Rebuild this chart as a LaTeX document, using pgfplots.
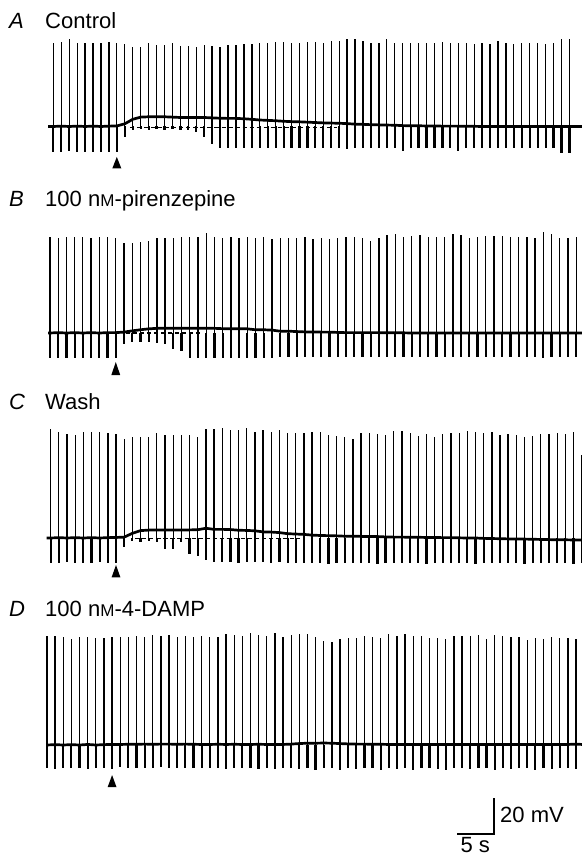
\documentclass[border=0pt]{standalone}
\usepackage{fontspec}
\setmainfont{Liberation Sans}
\usepackage{pgfplots}
\usepackage{pgfplotstable}
\pgfplotsset{compat=1.18}

% t = time (s), p = spike peak, d = undershoot, b = baseline (mV, rel. to rest)
\pgfplotstableread{
t p d b
0.00 0 0 0
0.72 46.4 -14.0 0
1.79 46.9 -14.2 0.2
2.87 48.6 -13.8 0
3.94 46.4 -14.0 0.2
5.01 46.4 -14.1 0
6.09 46.4 -13.9 0.2
7.16 46.4 -14.0 0
8.23 46.9 -14.2 0.2
9.30 46.4 -14.0 0.3
10.38 45.8 -6.0 1.5
11.45 44.2 -2.0 4.0
12.52 44.2 -1.5 5.2
13.60 46.4 -2.0 5.4
14.67 45.3 -1.5 5.4
15.74 45.3 -2.0 5.4
16.82 46.4 -1.5 5.2
17.89 44.7 -2.0 5.0
18.96 44.7 -2.0 5.0
20.03 44.2 -3.0 5.0
21.11 45.3 -6.0 5.0
22.18 44.7 -10.0 4.8
23.25 44.2 -12.0 4.6
24.33 45.3 -12.1 4.5
25.40 45.3 -12.0 4.5
26.47 45.8 -12.2 4.3
27.55 45.8 -12.0 4.0
28.62 46.4 -12.1 3.6
29.69 46.4 -12.0 3.4
30.76 46.9 -12.2 3.2
31.84 47.0 -12.1 2.9
32.91 46.6 -12.0 2.7
33.98 46.6 -12.1 2.6
35.06 47.1 -12.0 2.4
36.13 47.1 -12.2 2.2
37.20 46.2 -12.1 2.0
38.28 47.7 -12.0 1.9
39.35 47.7 -12.1 1.8
40.42 48.4 -12.3 1.6
41.49 48.4 -12.0 1.3
42.57 47.7 -12.1 1.2
43.64 46.6 -12.0 1.0
44.71 46.6 -12.2 0.9
45.79 48.4 -12.1 0.8
46.86 46.6 -12.0 0.7
47.93 46.2 -13.5 0.5
49.01 46.2 -12.1 0.4
50.08 46.6 -12.0 0.4
51.15 46.6 -12.2 0.3
52.22 46.6 -12.1 0.3
53.30 47.1 -12.0 0.2
54.37 46.6 -12.1 0.2
55.44 46.6 -13.5 0.2
56.52 46.2 -12.0 0.1
57.59 45.8 -12.1 0.1
58.66 46.2 -12.0 0
59.74 45.8 -12.2 0
60.81 47.7 -12.1 0
61.88 46.6 -12.0 0
62.95 45.8 -12.1 0
64.03 46.6 -12.2 0
65.10 46.6 -12.0 0
66.17 46.6 -12.1 0
67.25 45.8 -12.0 0
68.32 46.6 -12.2 0
69.39 48.4 -14.7 0
70.47 48.4 -14.7 0
72.20 0 0 0
}\traceA

\pgfplotstableread{
t p d b
0.00 0 0 0
0.27 53.5 -13.9 0
1.38 53.0 -14.0 0.2
2.49 53.5 -13.8 0
3.60 53.2 -13.9 0.2
4.71 53.5 -14.0 0
5.83 52.8 -13.9 0.2
6.94 53.5 -14.0 0
8.05 53.2 -13.8 0.2
9.16 53.0 -13.9 0.2
10.27 49.8 -6.0 0.5
11.38 49.8 -5.0 1.2
12.49 50.7 -5.0 1.8
13.60 50.9 -5.0 2.3
14.71 52.6 -5.5 2.6
15.82 53.0 -6.0 2.6
16.94 52.6 -9.0 2.6
18.05 53.5 -10.0 2.6
19.16 53.5 -13.9 2.6
20.27 53.2 -13.8 2.6
21.38 55.4 -14.0 2.6
22.49 53.5 -13.9 2.6
23.60 52.6 -14.0 2.4
24.71 53.5 -13.8 2.4
25.82 53.0 -13.9 2.4
26.93 53.5 -14.0 2.3
28.05 52.6 -13.9 1.8
29.16 53.5 -13.8 1.8
30.27 52.2 -13.9 1.6
31.38 52.6 -13.1 1.0
32.49 52.6 -13.1 1.0
33.60 52.6 -13.2 0.8
34.71 53.5 -13.1 0.6
35.82 52.2 -13.1 0.6
36.93 52.9 -13.3 0.5
38.04 52.0 -13.1 0.5
39.16 52.9 -13.1 0.3
40.27 53.5 -13.2 0.2
41.38 53.5 -13.1 0.2
42.49 52.6 -13.1 0.2
43.60 51.3 -13.4 0.2
44.71 52.6 -13.1 0.2
45.82 54.4 -13.1 0.1
46.93 54.9 -13.2 0.1
48.04 53.5 -13.1 0.1
49.15 54.1 -13.1 0
50.27 54.4 -13.4 0
51.38 53.1 -13.1 0
52.49 53.1 -13.1 0
53.60 53.5 -13.2 0
54.71 54.8 -13.1 0
55.82 54.4 -13.1 0
56.93 52.9 -13.3 0
58.04 53.5 -13.1 0
59.15 54.1 -13.1 0
60.26 54.1 -13.2 0
61.38 54.1 -13.1 0
62.49 53.5 -13.1 0
63.60 53.5 -13.4 0
64.71 53.5 -13.1 0
65.82 52.6 -13.1 0
66.93 56.3 -14.0 0
68.04 54.9 -13.1 0
69.15 52.6 -13.1 0
70.26 52.9 -13.2 0
71.37 53.1 -13.1 0
72.20 0 0 0
}\traceB

\pgfplotstableread{
t p d b
-0.20 0 0 0
0.36 60.4 -13.7 0
1.46 59.1 -13.8 0.2
2.57 57.8 -13.6 0
3.67 57.2 -13.7 0.2
4.78 59.1 -13.8 0
5.88 59.1 -13.7 0.2
6.98 59.1 -13.6 0
8.09 58.1 -13.8 0.2
9.19 57.8 -13.7 0.3
10.30 54.8 -5.0 0.5
11.40 55.9 -1.5 2.6
12.50 55.9 -2.0 4.1
13.61 56.3 -1.5 4.4
14.71 58.1 -2.0 4.4
15.82 57.2 -6.0 4.4
16.92 57.2 -6.0 4.4
18.02 57.2 -2.5 4.4
19.13 57.2 -9.0 4.5
20.23 56.3 -10.0 4.6
21.34 60.4 -12.0 5.4
22.44 60.4 -13.5 4.8
23.54 60.9 -13.6 4.8
24.65 60.0 -13.5 4.7
25.75 60.0 -13.7 4.3
26.86 60.9 -13.5 4.2
27.96 59.1 -13.6 4.0
29.06 60.0 -13.5 3.4
30.17 59.1 -13.7 3.3
31.27 60.0 -13.5 3.0
32.38 58.5 -14.0 2.4
33.48 58.1 -14.0 2.2
34.58 58.5 -14.1 2.0
35.69 58.7 -14.0 1.6
36.79 58.7 -14.0 1.4
37.90 57.2 -14.2 1.3
39.00 56.7 -14.0 1.2
40.10 56.3 -14.0 1.0
41.21 54.8 -14.1 1.0
42.31 58.1 -14.0 0.9
43.42 58.1 -14.0 0.8
44.52 57.6 -14.2 0.8
45.62 57.2 -14.0 0.6
46.73 59.6 -14.0 0.5
47.83 59.6 -14.1 0.5
48.94 58.1 -14.0 0.4
50.04 56.7 -14.0 0.4
51.14 57.8 -14.2 0.3
52.25 55.9 -14.0 0.3
53.35 57.6 -14.0 0.2
54.46 58.1 -14.1 0.2
55.56 58.5 -14.0 0.1
56.66 59.4 -14.0 0
57.77 59.1 -14.2 0
58.87 58.5 -14.0 -0.2
59.98 58.7 -14.0 -0.3
61.08 57.2 -14.1 -0.4
62.18 57.6 -14.0 -0.5
63.29 57.2 -14.0 -0.6
64.39 56.3 -14.2 -0.6
65.50 56.7 -14.0 -0.7
66.60 57.6 -14.0 -0.8
67.70 57.6 -14.1 -0.9
68.81 58.1 -14.0 -1.0
69.91 57.6 -14.0 -1.0
71.02 58.7 -14.2 -1.1
72.12 46.1 -14.0 -1.1
72.20 0 0 -1.1
}\traceC

\pgfplotstableread{
t p d b
-0.27 0 0 0
-0.14 60.6 -13.0 0
0.96 60.6 -13.2 0.2
2.06 59.8 -13.0 0
3.16 58.7 -12.8 0.2
4.26 59.8 -13.0 0
5.36 59.8 -13.1 0.3
6.46 59.3 -13.0 0
7.56 59.3 -12.6 0.2
8.66 59.8 -13.2 0.3
9.76 59.8 -12.0 0.3
10.86 60.2 -12.8 0.4
11.96 60.6 -13.0 0.4
13.06 59.8 -12.5 0.5
14.16 61.1 -13.0 0.4
15.26 60.6 -12.4 0.5
16.36 61.1 -13.0 0.5
17.46 59.8 -12.8 0.4
18.56 60.6 -13.0 0.5
19.66 60.2 -12.6 0.4
20.76 60.6 -13.0 0.3
21.86 59.8 -12.8 0.3
22.96 59.8 -13.0 0.4
24.06 61.7 -13.1 0.3
25.16 61.1 -13.0 0.4
26.26 60.6 -12.8 0.3
27.36 62.0 -13.0 0.3
28.46 61.1 -13.2 0.4
29.56 60.6 -13.0 0.3
30.66 62.0 -13.1 0.3
31.76 59.8 -13.0 0.3
32.86 61.1 -13.0 0.5
33.96 61.5 -13.1 0.8
35.06 61.7 -13.0 1.0
36.16 60.2 -13.9 1.0
37.26 57.8 -13.0 1.1
38.36 57.4 -13.0 1.0
39.46 58.9 -13.9 0.8
40.56 59.3 -13.0 0.6
41.66 59.6 -13.1 0.5
42.76 60.8 -13.0 0.5
43.86 60.2 -13.0 0.4
44.96 59.6 -13.9 0.4
46.06 61.5 -13.0 0.3
47.16 60.8 -13.1 0.3
48.26 61.5 -13.0 0.3
49.36 60.6 -13.9 0.3
50.46 60.8 -13.0 0.3
51.56 59.3 -13.0 0.3
52.66 59.3 -13.1 0.3
53.76 58.7 -13.9 0.3
54.86 60.6 -13.0 0.3
55.96 60.6 -13.0 0.3
57.06 60.6 -13.1 0.3
58.16 61.1 -13.0 0.3
59.26 58.9 -13.0 0.3
60.36 61.1 -13.9 0.3
61.46 60.6 -13.0 0.3
62.56 60.2 -13.1 0.3
63.66 60.2 -13.0 0.3
64.76 58.3 -13.0 0.3
65.86 59.6 -13.9 0.3
66.96 58.7 -13.0 0.3
68.06 59.8 -13.1 0.3
69.16 59.3 -13.0 0.3
70.26 59.3 -13.0 0.3
71.36 58.7 -13.1 0.5
72.20 0 0 0.3
}\traceD

\pgfplotsset{
  trace/.style={hide axis, anchor=south west, x=0.222cm, y=0.054cm,
    xmin=-1, xmax=72.16, ymin=-26, ymax=66},
  base/.style={black, line width=2.3pt, line join=round},
  up/.style={black, ycomb, line width=1.1pt},
  down/.style={black, ycomb, line width=1.9pt},
  rest/.style={black, line width=0.9pt, dash pattern=on 3.5pt off 2.5pt},
}
\newcommand\lab{\fontsize{18.8}{22}\selectfont}
\newcommand\smM{{\fontsize{14.5}{16}\selectfont M}}
% arrowhead under the 9th spike
\newcommand\stim[3]{\fill (axis cs:#1,#2) -- (axis cs:#1-0.6,#3) -- (axis cs:#1+0.6,#3) -- cycle;}

\begin{document}
\begin{tikzpicture}
\path[use as bounding box] (0,0) rectangle (17.46,25.65);

% A
\begin{axis}[trace, at={(1.218cm,20.451cm)}]
  \addplot[base] table[x=t,y=b]{\traceA};
  \addplot[up] table[x=t,y=p]{\traceA};
  \addplot[down] table[x=t,y=d]{\traceA};
  \addplot[rest] coordinates {(11.1,-0.3) (39,-0.3)};
  \stim{9.30}{-16.9}{-23.2}
\end{axis}

% B
\begin{axis}[trace, at={(1.218cm,14.256cm)}]
  \addplot[base] table[x=t,y=b]{\traceB};
  \addplot[up] table[x=t,y=p]{\traceB};
  \addplot[down] table[x=t,y=d]{\traceB};
  \addplot[rest] coordinates {(10.5,0) (20.5,0)};
  \stim{9.16}{-16.1}{-23.4}
\end{axis}

% C
\begin{axis}[trace, at={(1.218cm,8.106cm)}]
  \addplot[base] table[x=t,y=b]{\traceC};
  \addplot[up] table[x=t,y=p]{\traceC};
  \addplot[down] table[x=t,y=d]{\traceC};
  \addplot[rest] coordinates {(11.8,-0.5) (34,-0.5)};
  \stim{9.19}{-15}{-21.9}
\end{axis}

% D
\begin{axis}[trace, at={(1.218cm,1.896cm)}]
  \addplot[base] table[x=t,y=b]{\traceD};
  \addplot[up] table[x=t,y=p]{\traceD};
  \addplot[down] table[x=t,y=d]{\traceD};
  \stim{8.66}{-16.7}{-23.4}
\end{axis}

% panel labels
\begin{scope}[every node/.style={inner sep=0pt, anchor=base west, font=\lab}]
  \node at (0.27,24.78) {\itshape A};
  \node at (1.35,24.78) {Control};
  \node at (0.27,19.44) {\itshape B};
  \node at (1.35,19.44) {100 n\smM-pirenzepine};
  \node at (0.27,13.35) {\itshape C};
  \node at (1.35,13.35) {Wash};
  \node at (0.27,7.14) {\itshape D};
  \node at (1.35,7.14) {100 n\smM-4-DAMP};
\end{scope}

% scale bar
\draw[line width=1.8pt, line join=miter] (13.71,0.63) -- (14.82,0.63) -- (14.82,1.71);
\node[inner sep=0pt, anchor=base west, font=\lab] at (15.0,0.99) {20 mV};
\node[inner sep=0pt, anchor=base, font=\lab] at (14.26,0.09) {5 s};
\end{tikzpicture}
\end{document}
